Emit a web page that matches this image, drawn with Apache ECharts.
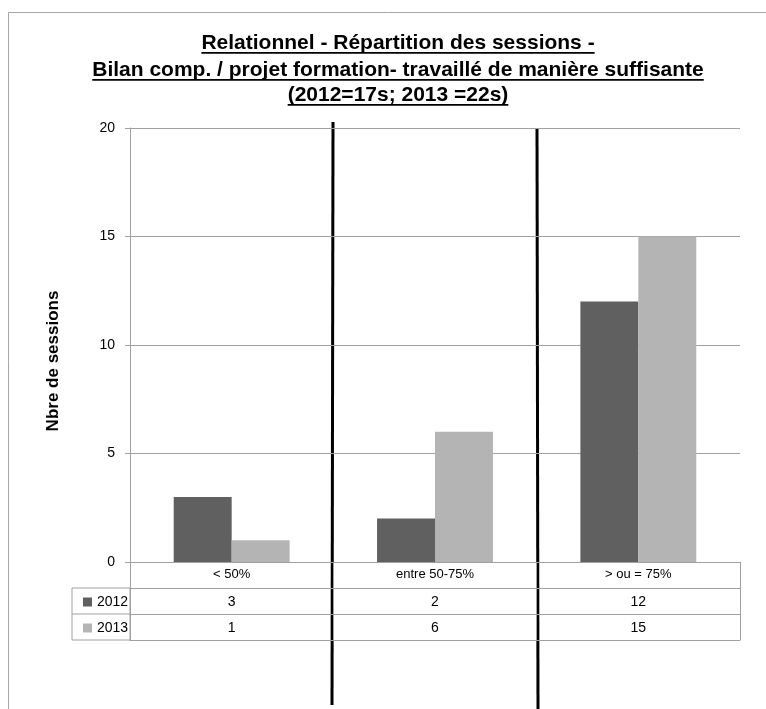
<!DOCTYPE html>
<html>
<head>
<meta charset="utf-8">
<title>Relationnel - Répartition des sessions</title>
<script src="https://cdn.jsdelivr.net/npm/echarts@6/dist/echarts.min.js"></script>
<style>
  html, body { margin: 0; padding: 0; background: #fff; }
  #chart { width: 766px; height: 709px; }
</style>
</head>
<body>
<div id="chart"></div>
<script>
// données
const categories = ['< 50%', 'entre 50-75%', '> ou = 75%'];
const years = ['2012', '2013'];
const values2012 = [3, 2, 12];
const values2013 = [1, 6, 15];
const titleLines = [
  'Relationnel - Répartition des sessions -',
  'Bilan comp. / projet formation- travaillé de manière suffisante',
  '(2012=17s; 2013 =22s)'
];

const FONT = 'Liberation Sans, Arial, sans-serif';
const GRID = { left: 130, right: 26, top: 128, bottom: 147 };
const ROW = 26;           // hauteur d'une ligne du tableau
const LINE_COLOR = '#a0a0a0';
const COLORS = ['#606060', '#b4b4b4'];

const chart = echarts.init(document.getElementById('chart'));

// mesure du texte pour les soulignements du titre
const ctx = document.createElement('canvas').getContext('2d');
const titleFont = 'bold 21px ' + FONT;
ctx.font = titleFont;

const titleCx = 398;
const titleY = [43, 70, 95];
const titleGraphics = [];
titleLines.forEach((t, i) => {
  const w = ctx.measureText(t).width;
  titleGraphics.push({
    type: 'text',
    x: titleCx, y: titleY[i],
    style: { text: t, font: titleFont, fill: '#000', align: 'center', verticalAlign: 'middle' }
  });
  titleGraphics.push({
    type: 'rect',
    shape: { x: titleCx - w / 2, y: titleY[i] + 9, width: w, height: 1.8 },
    style: { fill: '#000' }
  });
});

// colonne de légende du tableau
const tableTop = 709 - GRID.bottom;   // y du zéro
const tableLeft = 72;
const legendLines = [];
for (let r = 1; r <= 3; r++) {
  legendLines.push({
    type: 'line',
    shape: { x1: tableLeft, y1: tableTop + r * ROW, x2: GRID.left, y2: tableTop + r * ROW },
    style: { stroke: LINE_COLOR, lineWidth: 1 }
  });
}
legendLines.push({
  type: 'line',
  shape: { x1: tableLeft, y1: tableTop + ROW, x2: tableLeft, y2: tableTop + 3 * ROW },
  style: { stroke: LINE_COLOR, lineWidth: 1 }
});
legendLines.push({
  type: 'line',
  shape: { x1: GRID.left, y1: tableTop + ROW, x2: GRID.left, y2: tableTop + 3 * ROW },
  style: { stroke: LINE_COLOR, lineWidth: 1 }
});

// traits noirs ajoutés à la main
const blackLines = [
  { type: 'line', shape: { x1: 333, y1: 122, x2: 332, y2: 705 }, style: { stroke: '#000', lineWidth: 3 } },
  { type: 'line', shape: { x1: 537, y1: 128, x2: 538, y2: 709 }, style: { stroke: '#000', lineWidth: 3 } }
];

const tableAxis = (data, offset, showLabel) => ({
  type: 'category',
  data: data,
  position: 'bottom',
  offset: offset,
  axisLine: { show: true, lineStyle: { color: LINE_COLOR } },
  axisTick: { show: false },
  axisLabel: { show: showLabel, margin: 7, color: '#000', fontSize: 14, fontFamily: FONT }
});

const option = {
  animation: false,
  textStyle: { fontFamily: FONT },
  grid: GRID,
  legend: {
    orient: 'vertical',
    left: 78,
    top: tableTop + ROW + 2,
    itemWidth: 9,
    itemHeight: 9,
    itemGap: 12,
    icon: 'rect',
    data: years,
    textStyle: { color: '#000', fontSize: 14, lineHeight: 14, fontFamily: FONT }
  },
  xAxis: [
    {
      type: 'category',
      data: categories,
      axisLine: { show: true, lineStyle: { color: LINE_COLOR } },
      axisTick: { show: true, length: 3 * ROW, lineStyle: { color: LINE_COLOR } },
      axisLabel: { margin: 6, color: '#000', fontSize: 13, fontFamily: FONT }
    },
    tableAxis(values2012.map(String), ROW, true),
    tableAxis(values2013.map(String), 2 * ROW, true),
    tableAxis(['', '', ''], 3 * ROW, false)
  ],
  yAxis: {
    type: 'value',
    min: 0,
    max: 20,
    interval: 5,
    name: 'Nbre de sessions',
    nameLocation: 'middle',
    nameGap: 68,
    nameTextStyle: { fontWeight: 'bold', fontSize: 17, color: '#000', padding: [0, 32, 0, 0] },
    axisLine: { show: true, lineStyle: { color: LINE_COLOR } },
    axisTick: { show: true, length: 5, lineStyle: { color: LINE_COLOR } },
    axisLabel: { margin: 15, color: '#000', fontSize: 14 },
    splitLine: { lineStyle: { color: LINE_COLOR } }
  },
  series: [
    {
      name: years[0], type: 'bar', data: values2012,
      itemStyle: { color: COLORS[0] },
      barGap: '0%', barCategoryGap: '43%'
    },
    {
      name: years[1], type: 'bar', data: values2013,
      itemStyle: { color: COLORS[1] },
      barGap: '0%', barCategoryGap: '43%'
    }
  ],
  graphic: [
    {
      type: 'rect',
      shape: { x: 8.5, y: 12.5, width: 900, height: 900 },
      style: { fill: 'none', stroke: '#a6a6a6', lineWidth: 1 },
      z: -1
    }
  ].concat(titleGraphics, legendLines, blackLines)
};

chart.setOption(option);
</script>
</body>
</html>
